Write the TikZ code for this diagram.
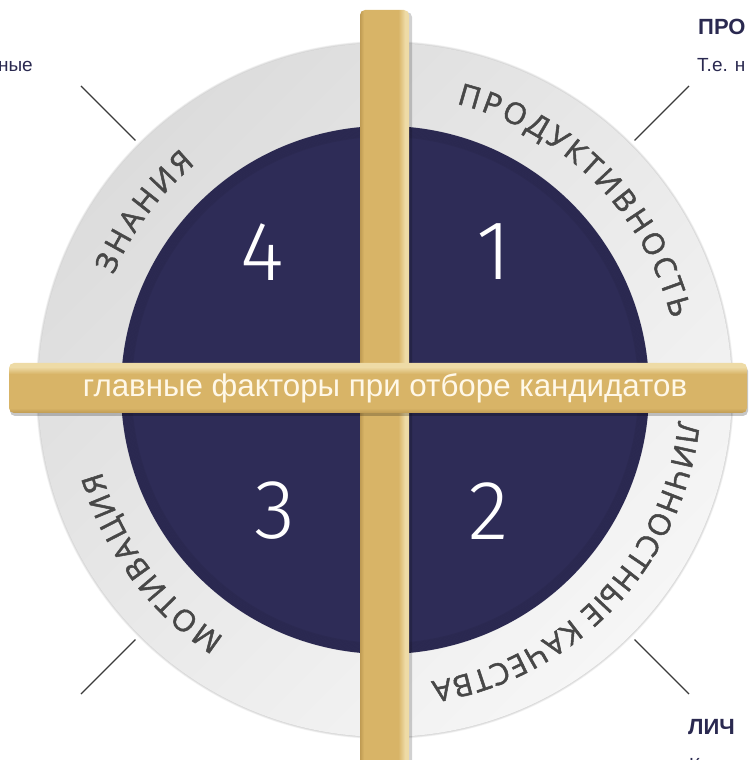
\documentclass[tikz,border=0pt]{standalone}
\usepackage{fontspec}
\setmainfont{Liberation Sans}
\newfontfamily\ringfont{Open Sans}[FakeBold=1.6]
\newfontfamily\digitfont{Fira Sans Light}
\usetikzlibrary{decorations.text}

\definecolor{discblue}{HTML}{2E2C57}
\definecolor{ringlight}{HTML}{F6F6F6}
\definecolor{ringgrey}{HTML}{DCDCDC}
\definecolor{ringtextgrey}{HTML}{474747}
\definecolor{gold}{HTML}{D8B467}
\definecolor{golddark}{HTML}{BF9B53}
\definecolor{goldlight}{HTML}{EEDBA6}
\definecolor{cream}{HTML}{FFF8E8}
\definecolor{labelnavy}{HTML}{2A2950}
\definecolor{leadgrey}{HTML}{3A3A3A}

% gold bars: light edge on one side, dark on the other
\pgfdeclarehorizontalshading{goldv}{100bp}{color(0bp)=(golddark); color(25bp)=(golddark);
  color(29bp)=(gold); color(64bp)=(gold); color(71bp)=(goldlight); color(75bp)=(goldlight); color(100bp)=(goldlight)}
\pgfdeclareverticalshading{goldh}{100bp}{color(0bp)=(golddark); color(25bp)=(golddark);
  color(30bp)=(gold); color(64bp)=(gold); color(71bp)=(goldlight); color(75bp)=(goldlight); color(100bp)=(goldlight)}

\tikzset{
  digit/.style={text=white, inner sep=0pt, font=\digitfont\fontsize{84}{84}\selectfont},
  leader/.style={draw=leadgrey, line width=1.1pt},
  headlabel/.style={text=labelnavy, inner sep=0pt, anchor=base west, font=\bfseries\fontsize{22}{26}\selectfont},
  bodylabel/.style={text=labelnavy, inner sep=0pt, font=\fontsize{19}{23}\selectfont},
}

% #1 start angle, #2 end angle (clockwise), #3 text
\newcommand\ringtext[3]{
  \path[decorate, decoration={text effects along path, text={#3},
      text effects/.cd, text along path, fit text to path,
      characters={text=ringtextgrey, anchor=base, font=\ringfont\fontsize{30}{30}\selectfont}}]
    (c) ++(#1:295) arc[start angle=#1, end angle=#2, radius=295];
}

\begin{document}
\begin{tikzpicture}[x=1pt,y=1pt]
  \useasboundingbox (0,0) rectangle (750,760);
  \coordinate (c) at (385,370);

  % soft shadow round the ring
  \foreach \k in {1,...,8}
    \fill[black, opacity=0.03, shift={(-0.6*\k,-0.8*\k)}] (c) circle[radius=346+0.4*\k];
  \shade[top color=ringgrey, bottom color=ringlight, shading angle=45] (c) circle[radius=347];

  % dark disc with darker rim
  \fill[discblue] (c) circle[radius=264];
  \foreach \k in {0,...,6}
    \draw[black, opacity=0.06, line width=1.6pt] (c) circle[radius=263.5-1.6*\k];

  \node[digit] (q4) at (262,508) {4};
  \node[digit] (q1) at (494,508) {1};
  \node[digit] (q3) at (275,249) {3};
  \node[digit] (q2) at (489,249) {2};

  \ringtext{157}{130}{ЗНАНИЯ}
  \ringtext{76}{14}{ПРОДУКТИВНОСТЬ}
  \ringtext{-6}{-81}{ЛИЧНОСТНЫЕ КАЧЕСТВА}
  \ringtext{237}{196}{МОТИВАЦИЯ}

  % the cross
  \fill[black, opacity=0.18, rounded corners=5pt] (362,-12) rectangle (412,748);
  \shade[shading=goldv, rounded corners=5pt] (360,-12) rectangle (409,750);
  \fill[black, opacity=0.22, rounded corners=5pt] (10,344) rectangle (748,394);
  \shade[shading=goldh, rounded corners=5pt] (9,347) rectangle (747,397);
  \node[text=cream, font=\fontsize{31.3}{31.3}\selectfont] (title) at (385,372)
    {главные факторы при отборе кандидатов};

  % leader lines to the side texts
  \foreach \a/\n in {45/prod,135/know,225/motiv,315/pers}
    \path (c) ++(\a:353) coordinate (\n In) ++(\a:77) coordinate (\n Out);
  \foreach \n in {prod,know,motiv,pers}
    \draw[leader] (\n In) -- (\n Out);

  \node[headlabel] (prodHead) at (698,725) {ПРО};
  \node[bodylabel, anchor=base west] (prodText) at (697,688) {Т.е. н};
  \node[bodylabel, anchor=base east] (knowText) at (33,688) {ные};
  \node[headlabel] (persHead) at (688,25) {ЛИЧ};
  \node[bodylabel, anchor=base west] (persText) at (689,-11) {Каже};
\end{tikzpicture}
\end{document}
